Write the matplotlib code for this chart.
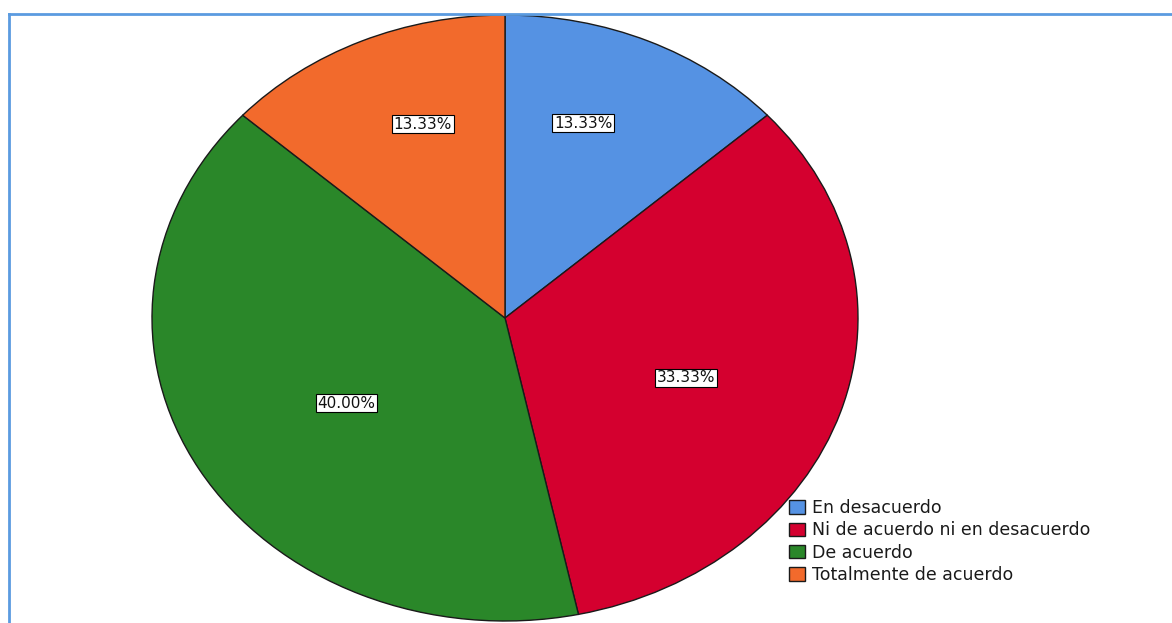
import numpy as np
import matplotlib.pyplot as plt
from matplotlib.lines import Line2D

# Data (percentages)
categories = ["En desacuerdo", "Ni de acuerdo ni en desacuerdo", "De acuerdo", "Totalmente de acuerdo"]
percentages = [13.33, 33.33, 40.00, 13.33]
colors = ["#5592E3", "#D4002F", "#2A8729", "#F26A2C"]

# label placement style (radius in pie units, angular nudge in degrees)
label_radius = [0.68, 0.55, 0.53, 0.68]
label_nudge = [5, -3, 2, -4]

W, H = 1172, 623
fig = plt.figure(figsize=(W / 100, H / 100), dpi=100)
fig.patch.set_facecolor("white")

# pie area: an ellipse, wider than tall
ax = fig.add_axes([152 / W, (H - 621) / H, 706 / W, 606 / H])
wedges, _ = ax.pie(percentages, colors=colors, startangle=90, counterclock=False,
                   wedgeprops=dict(edgecolor="#1a1a1a", linewidth=1.0))
ax.set_aspect("auto")
ax.set_xlim(-1, 1)
ax.set_ylim(-1, 1)
ax.axis("off")

for w, pct, r, nudge in zip(wedges, percentages, label_radius, label_nudge):
    mid = np.deg2rad((w.theta1 + w.theta2) / 2 + nudge)
    ax.text(r * np.cos(mid), r * np.sin(mid), f"{pct:.2f}%", ha="center", va="center",
            fontsize=11, family="DejaVu Sans", color="#111111",
            bbox=dict(boxstyle="square,pad=0.1", facecolor="white", edgecolor="black", linewidth=0.8))

# legend
leg = fig.legend(wedges, categories, loc="upper left",
                 bbox_to_anchor=(789 / W, 1 - 499 / H), bbox_transform=fig.transFigure,
                 frameon=False, fontsize=12.5, borderpad=0, borderaxespad=0,
                 labelspacing=0.25, handlelength=0.95, handleheight=0.8, handletextpad=0.4)
for t in leg.get_texts():
    t.set_color("#1a1a1a")

# blue frame (top and left edges visible)
frame_color = "#5B9BE0"
fig.add_artist(Line2D([9 / W, 1.0], [1 - 14 / H, 1 - 14 / H], color=frame_color, linewidth=2,
                      transform=fig.transFigure))
fig.add_artist(Line2D([9 / W, 9 / W], [0.0, 1 - 14 / H], color=frame_color, linewidth=2,
                      transform=fig.transFigure))

plt.savefig("out.png", dpi=100)
